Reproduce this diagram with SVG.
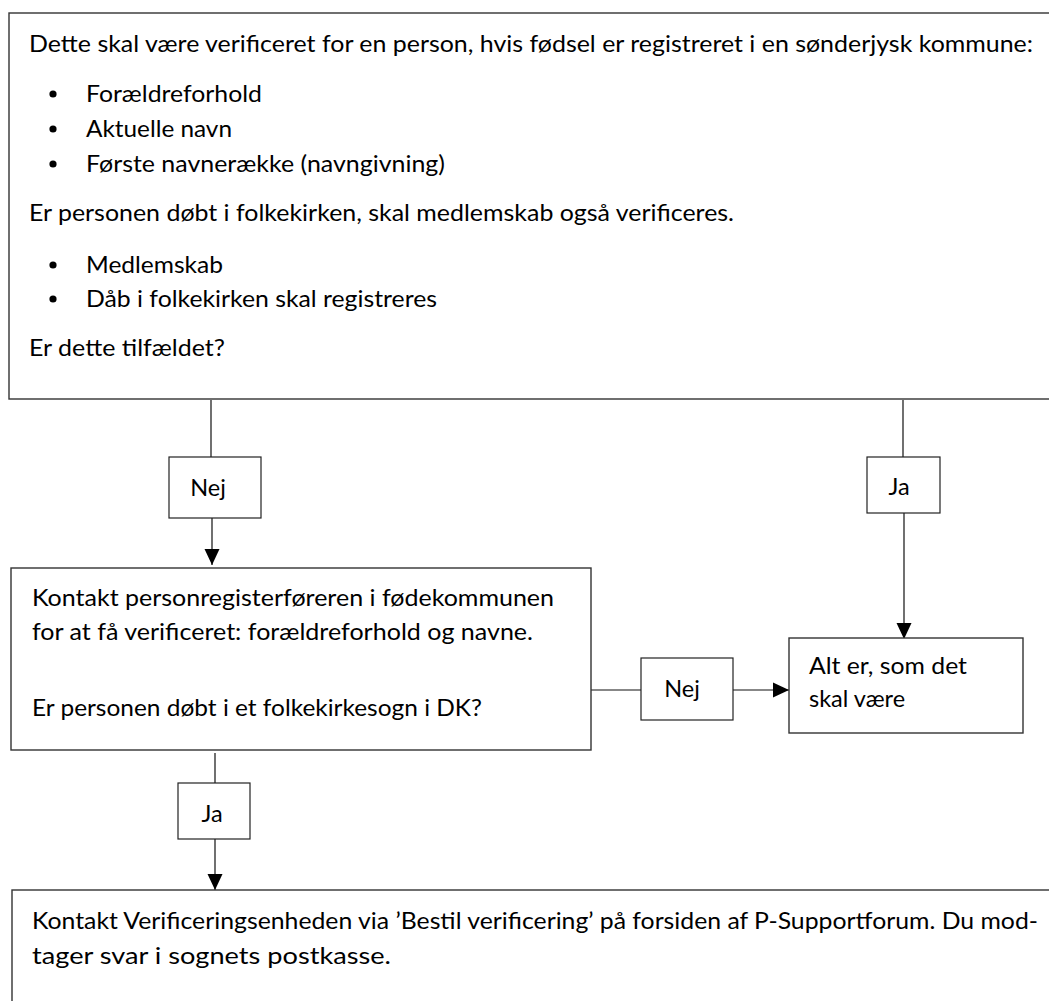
<svg xmlns="http://www.w3.org/2000/svg" width="1049" height="1001" viewBox="0 0 1049 1001">
<style>
  .t { font-family: Lato, "Open Sans", "Liberation Sans", sans-serif; font-size: 23.5px; fill: #000; }
  .box { fill: #fff; stroke: #333; stroke-width: 1.4; }
  .lbl { fill: #fff; stroke: #222; stroke-width: 1.2; }
  .con { fill: none; stroke: #111; stroke-width: 1.2; }
</style>
<defs>
  <marker id="arr" markerUnits="userSpaceOnUse" markerWidth="16" markerHeight="16" viewBox="0 0 16 16" refX="16" refY="8" orient="auto">
    <path d="M0,0.5 L16,8 L0,15.5 Z" fill="#000"/>
  </marker>
</defs>
<rect width="1049" height="1001" fill="#fff"/>

<g id="connectors">
  <line class="con" x1="211" y1="400" x2="211" y2="457"/>
  <line class="con" x1="212" y1="518" x2="212" y2="565" marker-end="url(#arr)"/>
  <line class="con" x1="903" y1="400" x2="903" y2="457"/>
  <line class="con" x1="904" y1="513" x2="904" y2="639" marker-end="url(#arr)"/>
  <line class="con" x1="591" y1="690" x2="641" y2="690"/>
  <line class="con" x1="733" y1="690" x2="789" y2="690" marker-end="url(#arr)"/>
  <line class="con" x1="215" y1="753" x2="215" y2="783"/>
  <line class="con" x1="215" y1="839" x2="215" y2="890" marker-end="url(#arr)"/>
</g>

<g id="node-top">
  <rect class="box" x="9" y="13" width="1060" height="386"/>
  <text class="t" x="29" y="52" textLength="1004" lengthAdjust="spacingAndGlyphs">Dette skal være verificeret for en person, hvis fødsel er registreret i en sønderjysk kommune:</text>
  <circle cx="53" cy="94" r="3.6" fill="#000"/>
  <text class="t" x="86" y="102" textLength="176" lengthAdjust="spacingAndGlyphs">Forældreforhold</text>
  <circle cx="53" cy="129" r="3.6" fill="#000"/>
  <text class="t" x="86" y="137" textLength="146" lengthAdjust="spacingAndGlyphs">Aktuelle navn</text>
  <circle cx="53" cy="164" r="3.6" fill="#000"/>
  <text class="t" x="86" y="172" textLength="359" lengthAdjust="spacingAndGlyphs">Første navnerække (navngivning)</text>
  <text class="t" x="29" y="221" textLength="705" lengthAdjust="spacingAndGlyphs">Er personen døbt i folkekirken, skal medlemskab også verificeres.</text>
  <circle cx="53" cy="265" r="3.6" fill="#000"/>
  <text class="t" x="86" y="273" textLength="137" lengthAdjust="spacingAndGlyphs">Medlemskab</text>
  <circle cx="53" cy="299" r="3.6" fill="#000"/>
  <text class="t" x="86" y="307" textLength="351" lengthAdjust="spacingAndGlyphs">Dåb i folkekirken skal registreres</text>
  <text class="t" x="29" y="356" textLength="196" lengthAdjust="spacingAndGlyphs">Er dette tilfældet?</text>
</g>

<g id="label-nej-1">
  <rect class="lbl" x="169" y="457" width="92" height="61"/>
  <text class="t" x="208" y="496" text-anchor="middle">Nej</text>
</g>

<g id="label-ja-1">
  <rect class="lbl" x="867" y="457" width="73" height="56"/>
  <text class="t" x="899" y="495" text-anchor="middle">Ja</text>
</g>

<g id="node-kontakt">
  <rect class="box" x="11" y="568" width="580" height="182"/>
  <text class="t" x="32" y="606" textLength="522" lengthAdjust="spacingAndGlyphs">Kontakt personregisterføreren i fødekommunen</text>
  <text class="t" x="32" y="640" textLength="501" lengthAdjust="spacingAndGlyphs">for at få verificeret: forældreforhold og navne.</text>
  <text class="t" x="32" y="716" textLength="450" lengthAdjust="spacingAndGlyphs">Er personen døbt i et folkekirkesogn i DK?</text>
</g>

<g id="label-nej-2">
  <rect class="lbl" x="641" y="658" width="92" height="62"/>
  <text class="t" x="682" y="697" text-anchor="middle">Nej</text>
</g>

<g id="node-alt">
  <rect class="box" x="789" y="638" width="234" height="95"/>
  <text class="t" x="809" y="674" textLength="158" lengthAdjust="spacingAndGlyphs">Alt er, som det</text>
  <text class="t" x="809" y="707">skal være</text>
</g>

<g id="label-ja-2">
  <rect class="lbl" x="178" y="783" width="72" height="56"/>
  <text class="t" x="212" y="822" text-anchor="middle">Ja</text>
</g>

<g id="node-bottom">
  <rect class="box" x="12" y="890" width="1060" height="130"/>
  <text class="t" x="32" y="929" textLength="1006" lengthAdjust="spacingAndGlyphs">Kontakt Verificeringsenheden via ’Bestil verificering’ på forsiden af P-Supportforum. Du mod-</text>
  <text class="t" x="32" y="964" textLength="359" lengthAdjust="spacingAndGlyphs">tager svar i sognets postkasse.</text>
</g>
</svg>
